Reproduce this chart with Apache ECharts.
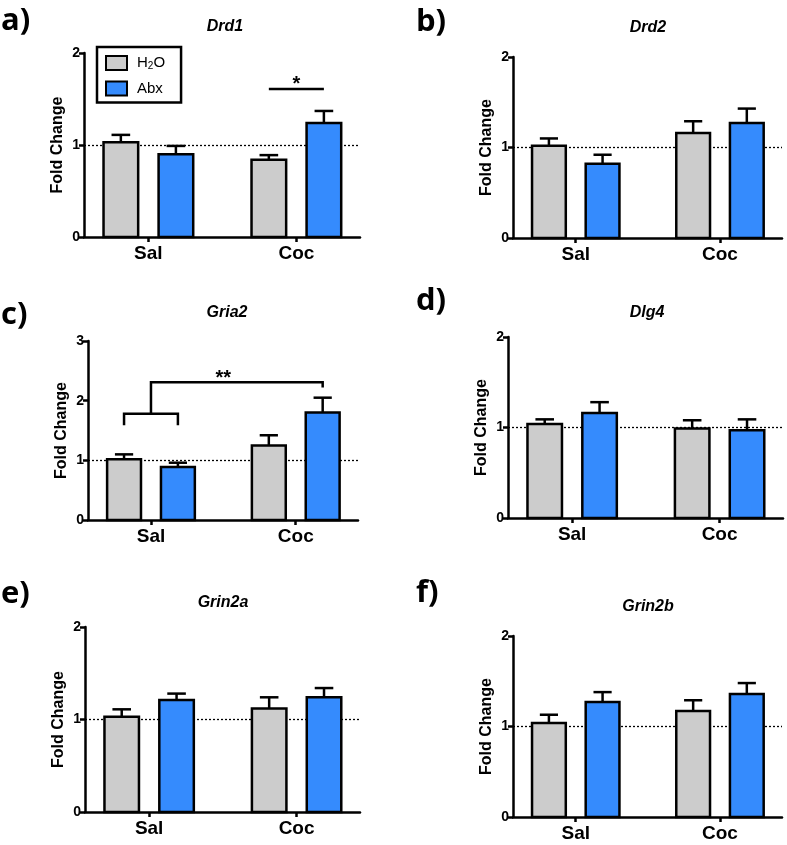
<!DOCTYPE html>
<html>
<head>
<meta charset="utf-8">
<script src="https://cdn.jsdelivr.net/npm/echarts@6/dist/echarts.min.js"></script>
<style>html,body{margin:0;padding:0;background:#fff}#c{width:787px;height:845px}</style>
</head>
<body>
<div id="c"></div>
<script>
// ---- data ----
const categories = ['Sal', 'Coc'];
const groupNames = ['H2O', 'Abx'];
const genes = ['Drd1', 'Drd2', 'Gria2', 'Dlg4', 'Grin2a', 'Grin2b'];
const panelLetters = ['a)', 'b)', 'c)', 'd)', 'e)', 'f)'];
const yMaxes = [2, 2, 3, 2, 2, 2];
const yTickStep = 1;
const refLine = 1;

const drd1H2O = [1.03, 0.84],   drd1H2OSem = [0.08, 0.05];
const drd1Abx = [0.90, 1.24],   drd1AbxSem = [0.09, 0.13];
const drd2H2O = [1.02, 1.16],   drd2H2OSem = [0.08, 0.13];
const drd2Abx = [0.82, 1.27],   drd2AbxSem = [0.10, 0.16];
const gria2H2O = [1.02, 1.25],  gria2H2OSem = [0.08, 0.17];
const gria2Abx = [0.89, 1.80],  gria2AbxSem = [0.07, 0.25];
const dlg4H2O = [1.04, 0.99],   dlg4H2OSem = [0.05, 0.09];
const dlg4Abx = [1.16, 0.97],   dlg4AbxSem = [0.12, 0.12];
const grin2aH2O = [1.03, 1.12], grin2aH2OSem = [0.08, 0.12];
const grin2aAbx = [1.21, 1.24], grin2aAbxSem = [0.07, 0.10];
const grin2bH2O = [1.04, 1.17], grin2bH2OSem = [0.09, 0.12];
const grin2bAbx = [1.27, 1.36], grin2bAbxSem = [0.11, 0.12];

// significance: Drd1 Coc H2O vs Coc Abx ; Gria2 Sal (both) vs Coc Abx
const drd1Sig = { group: 2, y: 1.61, label: '*' };
const gria2Sig = { bracketGroup: 1, bracketY: 1.78, bracketLeg: 1.59, spanY: 2.31, toGroup: 2, toBar: 1, dropY: 2.22, label: '**' };

const means = [[drd1H2O, drd1Abx], [drd2H2O, drd2Abx], [gria2H2O, gria2Abx], [dlg4H2O, dlg4Abx], [grin2aH2O, grin2aAbx], [grin2bH2O, grin2bAbx]];
const sems = [[drd1H2OSem, drd1AbxSem], [drd2H2OSem, drd2AbxSem], [gria2H2OSem, gria2AbxSem], [dlg4H2OSem, dlg4AbxSem], [grin2aH2OSem, grin2aAbxSem], [grin2bH2OSem, grin2bAbxSem]];

// ---- layout / style ----
const FONT = '"Liberation Sans", Arial, sans-serif';
const COLORS = ['#cccccc', '#358bfd'];
const XMIN = 0.565, XMAX = 2.43;
const OFF = 0.186, HW = 0.117, CAP = 0.063, LW = 2.5;
const layouts = [
  { grid: { left: 84, top: 53, width: 276, height: 184 }, letter: [1, 21], title: [225, 27] },
  { grid: { left: 513, top: 57, width: 269, height: 181 }, letter: [416, 22], title: [648, 28] },
  { grid: { left: 88, top: 341, width: 270, height: 179 }, letter: [1, 315], title: [227, 313] },
  { grid: { left: 508, top: 337, width: 275, height: 181 }, letter: [416, 301], title: [647, 313] },
  { grid: { left: 85, top: 627, width: 275, height: 185 }, letter: [1, 594], title: [223, 603] },
  { grid: { left: 513, top: 636, width: 269, height: 181 }, letter: [416, 593], title: [648, 607] }
];

function barX(group, s) { return group + (s === 0 ? -OFF : OFF); }

function barRender(s) {
  return function (params, api) {
    const cx = barX(api.value(0), s);
    const v = api.value(1), e = api.value(2);
    const tl = api.coord([cx - HW, v]);
    const br = api.coord([cx + HW, 0]);
    const c = api.coord([cx, v]);
    const t = api.coord([cx, v + e]);
    const cl = api.coord([cx - CAP, v + e]);
    const cr = api.coord([cx + CAP, v + e]);
    const st = { stroke: '#000', lineWidth: LW };
    return {
      type: 'group',
      children: [
        { type: 'line', shape: { x1: c[0], y1: c[1], x2: t[0], y2: t[1] }, style: st },
        { type: 'line', shape: { x1: cl[0], y1: cl[1], x2: cr[0], y2: cr[1] }, style: st },
        { type: 'rect', shape: { x: tl[0], y: tl[1], width: br[0] - tl[0], height: br[1] - tl[1] },
          style: { fill: api.visual('color'), stroke: '#000', lineWidth: LW } }
      ]
    };
  };
}

const grids = [], xAxes = [], yAxes = [], series = [], graphics = [];
const axisLineStyle = { color: '#000', width: LW };

layouts.forEach((L, i) => {
  grids.push(Object.assign({ containLabel: false }, L.grid));
  xAxes.push({
    gridIndex: i, type: 'value', min: XMIN, max: XMAX,
    axisLine: { show: true, onZero: false, lineStyle: axisLineStyle },
    axisTick: { show: true, customValues: [1, 2], length: 5, lineStyle: axisLineStyle },
    axisLabel: { customValues: [1, 2], formatter: v => categories[Math.round(v) - 1], color: '#000',
      fontSize: 19, fontWeight: 'bold', fontFamily: FONT, margin: 7 },
    splitLine: { show: false }
  });
  yAxes.push({
    gridIndex: i, type: 'value', min: 0, max: yMaxes[i], interval: yTickStep,
    axisLine: { show: true, lineStyle: axisLineStyle },
    axisTick: { show: true, length: 5, lineStyle: axisLineStyle },
    axisLabel: { color: '#000', fontSize: 14, fontWeight: 'bold', fontFamily: FONT, margin: 4 },
    splitLine: { show: false },
    name: 'Fold Change', nameLocation: 'middle', nameGap: 18,
    nameTextStyle: { color: '#000', fontSize: 16, fontWeight: 'bold', fontFamily: FONT }
  });
  // reference dotted line
  series.push({
    type: 'line', xAxisIndex: i, yAxisIndex: i, data: [], silent: true,
    markLine: { silent: true, symbol: 'none', z: 1, label: { show: false },
      lineStyle: { color: '#000', type: [2, 2], width: 1.3 }, data: [{ yAxis: refLine }] }
  });
  for (let s = 0; s < 2; s++) {
    series.push({
      type: 'custom', name: groupNames[s], xAxisIndex: i, yAxisIndex: i, z: 3,
      itemStyle: { color: COLORS[s], borderColor: '#000', borderWidth: 2 },
      renderItem: barRender(s), clip: false,
      encode: { x: 0, y: 1 },
      data: categories.map((c, g) => [g + 1, means[i][s][g], sems[i][s][g]])
    });
  }
  graphics.push({ type: 'text', x: L.letter[0], y: L.letter[1],
    style: { text: panelLetters[i], font: 'bold 31px "Open Sans", "Liberation Sans", sans-serif', fill: '#000', textAlign: 'left', textVerticalAlign: 'middle' } });
  graphics.push({ type: 'text', x: L.title[0], y: L.title[1],
    style: { text: genes[i], font: 'italic bold 16px ' + FONT, fill: '#000', textAlign: 'center', textVerticalAlign: 'middle' } });
});

const st = { stroke: '#000', lineWidth: LW };
const starFont = 'bold 20px ' + FONT;
// Drd1 significance line
series.push({
  type: 'custom', xAxisIndex: 0, yAxisIndex: 0, z: 4, silent: true, clip: false,
  data: [[drd1Sig.group, drd1Sig.y]],
  renderItem: function (params, api) {
    const g = api.value(0), y = api.value(1);
    const a = api.coord([barX(g, 0), y]), b = api.coord([barX(g, 1), y]), m = api.coord([g, y]);
    return { type: 'group', children: [
      { type: 'line', shape: { x1: a[0], y1: a[1], x2: b[0], y2: b[1] }, style: st },
      { type: 'text', x: m[0], y: m[1] - 4, style: { text: drd1Sig.label, font: starFont, fill: '#000', textAlign: 'center', textVerticalAlign: 'middle' } }
    ] };
  }
});
// Gria2 bracket
series.push({
  type: 'custom', xAxisIndex: 2, yAxisIndex: 2, z: 4, silent: true, clip: false,
  data: [[gria2Sig.bracketGroup, gria2Sig.bracketY]],
  renderItem: function (params, api) {
    const S = gria2Sig, g = S.bracketGroup;
    const p = (x, y) => api.coord([x, y]);
    const l1 = p(barX(g, 0), S.bracketLeg), l2 = p(barX(g, 0), S.bracketY), r2 = p(barX(g, 1), S.bracketY), r1 = p(barX(g, 1), S.bracketLeg);
    const m1 = p(g, S.bracketY), m2 = p(g, S.spanY), e2 = p(barX(S.toGroup, S.toBar), S.spanY), e1 = p(barX(S.toGroup, S.toBar), S.dropY);
    const tx = p((g + S.toGroup) / 2, S.spanY);
    return { type: 'group', children: [
      { type: 'polyline', shape: { points: [l1, l2, r2, r1] }, style: Object.assign({ fill: null }, st) },
      { type: 'polyline', shape: { points: [m1, m2, e2, e1] }, style: Object.assign({ fill: null }, st) },
      { type: 'text', x: tx[0], y: tx[1] - 4, style: { text: S.label, font: starFont, fill: '#000', textAlign: 'center', textVerticalAlign: 'middle' } }
    ] };
  }
});

const chart = echarts.init(document.getElementById('c'), null, { renderer: 'canvas' });
chart.setOption({
  backgroundColor: '#fff',
  animation: false,
  grid: grids, xAxis: xAxes, yAxis: yAxes, series: series,
  legend: {
    data: [{ name: 'H2O', icon: 'rect' }, { name: 'Abx', icon: 'rect' }],
    orient: 'vertical', left: 97, top: 47,
    itemWidth: 21, itemHeight: 14, itemGap: 9,
    padding: [8, 16, 6, 8],
    borderColor: '#000', borderWidth: 2.5,
    itemStyle: { borderColor: '#000', borderWidth: 2 },
    formatter: n => n === 'H2O' ? '{gap|}H{sub|2}O' : '{gap|}' + n,
    textStyle: { color: '#000', fontSize: 15, fontFamily: FONT,
      rich: {
        gap: { width: 5 },
        sub: { fontSize: 10, fontFamily: FONT, color: '#000', padding: [7, 0, 0, 0] } } },
    selectedMode: false
  },
  graphic: graphics
});
</script>
</body>
</html>
